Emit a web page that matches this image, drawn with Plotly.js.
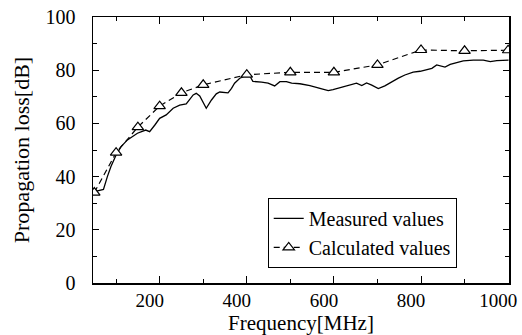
<!DOCTYPE html>
<html>
<head>
<meta charset="utf-8">
<script src="https://cdn.plot.ly/plotly-3.0.1.min.js"></script>
<style>html,body{margin:0;padding:0;background:#fff;}#chart{width:522px;height:335px;}</style>
</head>
<body>
<div id="chart"></div>
<script>
var measuredFreq = [48, 65, 71, 80, 88, 100, 111, 126, 149, 168, 177, 189, 200, 215, 231, 246, 261, 277, 284, 292, 300, 307, 319, 330, 338, 357, 365, 372, 384, 395, 407, 414, 434, 449, 464, 476, 491, 503, 522, 545, 568, 587, 598, 621, 641, 652, 664, 675, 687, 702, 717, 733, 748, 763, 782, 798, 813, 825, 836, 848, 855, 867, 882, 897, 920, 943, 959, 974, 1001];
var measuredLoss = [34.3, 35, 35.2, 40, 43.7, 48.1, 51.2, 53.8, 56.3, 57.5, 56.9, 59.4, 61.9, 63.2, 65.7, 66.9, 67.3, 70.7, 71.3, 70.3, 67.6, 65.7, 68.8, 71.1, 71.8, 71.5, 73.2, 75.1, 77, 77.8, 77.8, 75.8, 75.5, 75.1, 74.1, 75.7, 75.7, 75.1, 74.9, 74.2, 73.2, 72.3, 72.7, 73.6, 74.4, 75.1, 74.2, 75.2, 74.4, 73.1, 74.1, 75.7, 77, 78.2, 79.3, 79.6, 80.1, 80.7, 82, 81.5, 81.2, 82.2, 82.8, 83.5, 83.8, 83.8, 83.2, 83.6, 83.8];
var calcFreq = [50, 100, 150, 200, 250, 300, 400, 500, 600, 700, 800, 900, 1000];
var calcLoss = [34, 49, 58.6, 66.5, 71.5, 74.5, 78.3, 79.2, 79.2, 82, 87.6, 87.3, 87.5];
var xTicks = [200, 400, 600, 800, 1000];
var yTicks = [0, 20, 40, 60, 80, 100];

var FONT = "'Liberation Serif', 'Times New Roman', serif";

var traces = [
  {
    x: measuredFreq, y: measuredLoss, type: 'scatter', mode: 'lines',
    name: 'Measured values',
    line: {color: '#000', width: 1.3}
  },
  {
    x: calcFreq, y: calcLoss, type: 'scatter', mode: 'lines+markers',
    name: 'Calculated values',
    line: {color: '#000', width: 1.2, dash: '6px,4px'},
    marker: {symbol: 'triangle-up', size: 10, color: '#fff', line: {color: '#000', width: 1.2}}
  }
];

var layout = {
  width: 522, height: 335,
  margin: {l: 93, r: 13, t: 17, b: 52, pad: 0},
  paper_bgcolor: '#fff', plot_bgcolor: '#fff',
  font: {family: FONT, color: '#000', size: 20},
  showlegend: true,
  legend: {
    x: 0.42, y: 0.32, xanchor: 'left', yanchor: 'top',
    bordercolor: '#000', borderwidth: 1, bgcolor: '#fff',
    font: {family: FONT, size: 20, color: '#000'},
    tracegroupgap: 0
  },
  xaxis: {
    range: [47, 1002], tickvals: xTicks, ticktext: xTicks.map(String),
    ticks: 'inside', ticklen: 7, tickwidth: 1, tickcolor: '#000',
    minor: {tickvals: [100, 300, 500, 700, 900], ticks: 'inside', ticklen: 4, tickcolor: '#000', tickwidth: 1},
    showline: true, linecolor: '#000', linewidth: 1.5, mirror: 'ticks',
    showgrid: false, zeroline: false,
    ticklabelshift: -10,
    ticklabelstandoff: 0,
    tickfont: {family: FONT, size: 19, color: '#000'},
    title: {text: 'Frequency[MHz]', font: {family: FONT, size: 21, color: '#000'}, standoff: 6}
  },
  yaxis: {
    range: [0, 100], tickvals: yTicks, ticktext: yTicks.map(String),
    ticks: 'inside', ticklen: 6, tickwidth: 1, tickcolor: '#000',
    minor: {tickvals: [10, 30, 50, 70, 90], ticks: 'inside', ticklen: 4, tickcolor: '#000', tickwidth: 1},
    showline: true, linecolor: '#000', linewidth: 1.5, mirror: 'ticks',
    showgrid: false, zeroline: false,
    ticklabelstandoff: 12,
    tickfont: {family: FONT, size: 20, color: '#000'},
    title: {text: 'Propagation loss[dB]', font: {family: FONT, size: 22, color: '#000'}, standoff: 10}
  }
};

Plotly.newPlot('chart', traces, layout, {displayModeBar: false, staticPlot: true});
</script>
</body>
</html>
